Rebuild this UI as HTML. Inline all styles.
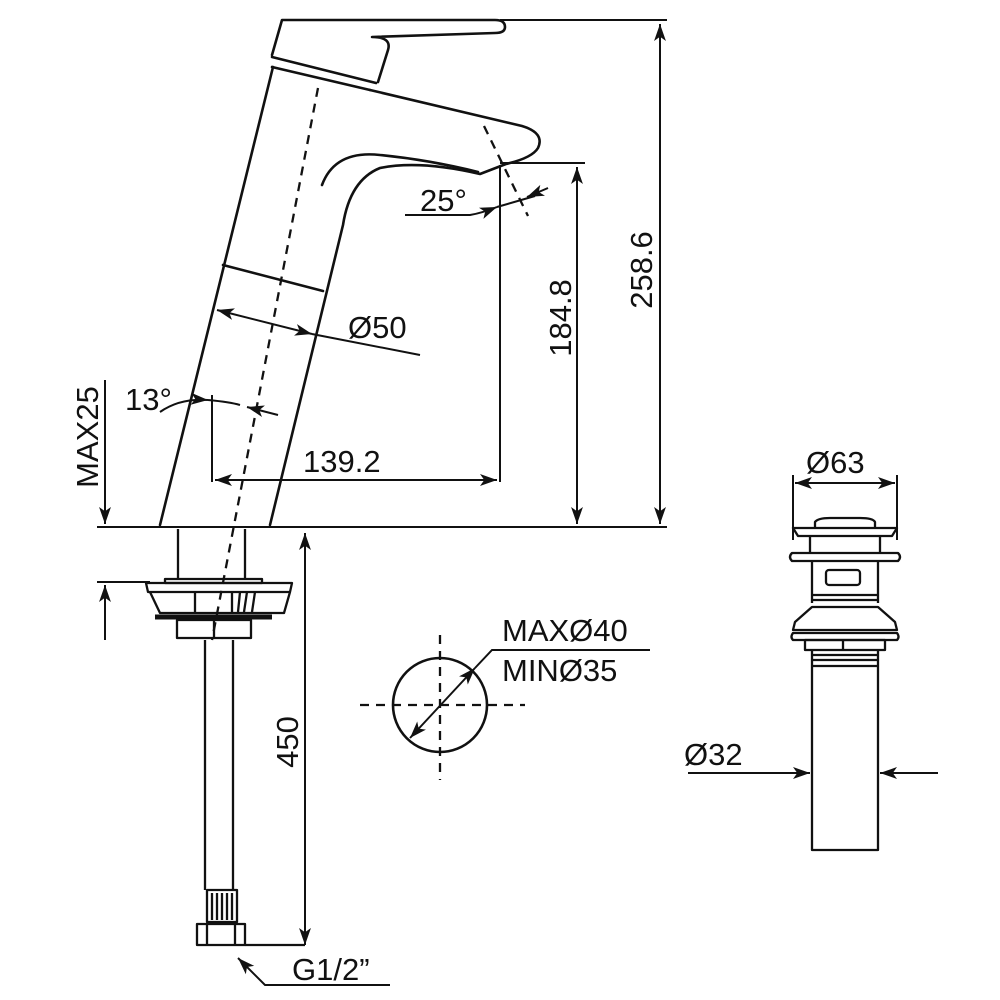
<!DOCTYPE html>
<html><head><meta charset="utf-8"><style>
html,body{margin:0;padding:0;background:#fff}
svg{display:block}
text{font-family:"Liberation Sans",Arial,sans-serif;font-size:31px;fill:#111}
</style></head><body>
<svg width="1000" height="1000" viewBox="0 0 1000 1000" xmlns="http://www.w3.org/2000/svg">
<defs>
<marker id="b" viewBox="0 0 10 10" refX="10" refY="5" markerWidth="17" markerHeight="17" orient="auto-start-reverse" markerUnits="userSpaceOnUse"><path d="M0,1.5 L10,5 L0,8.5 L2.5,5z" fill="#111"/></marker>
</defs>
<g fill="none" stroke="#111" stroke-width="2.6" stroke-linejoin="round" stroke-linecap="round">
<path d="M272,55 L282,20 L495,20 Q505,20 505,27 Q505,33 495,33 L372,37 Q392,37 388,50 L378,82"/>
<path d="M272,57 L376,83"/>
<path d="M272,67 L370,90"/>
<path d="M273,67 L160,525"/>
<path d="M370,90 L522,126 Q545,133 538,148 Q532,158 506,164 L480,174 Q420,160 380,168 Q350,180 343,225 L270,525"/>
<path d="M322,185 Q335,150 380,155 Q430,160 478,172"/>
<path d="M223,265 L323,291"/>
</g>
<g fill="none" stroke="#111" stroke-width="2.3" stroke-dasharray="9,7">
<path d="M318,88 L212,640"/>
<path d="M484,126 L528,216"/>
<path d="M360,705 L525,705"/>
<path d="M440,635 L440,780"/>
</g>
<g fill="none" stroke="#111" stroke-width="2">
<path d="M97,527 L667,527"/>
<path d="M500,20 L667,20"/>
<path d="M500,165 L500,482"/>
<path d="M500,163 L585,163"/>
<path d="M97,582 L150,582"/>
<path d="M212,395 L212,482"/>
<path d="M660,24 L660,524" marker-start="url(#b)" marker-end="url(#b)"/>
<path d="M577,167 L577,524" marker-start="url(#b)" marker-end="url(#b)"/>
<path d="M215,480 L497,480" marker-start="url(#b)" marker-end="url(#b)"/>
<path d="M217,310 L312,334" marker-start="url(#b)" marker-end="url(#b)"/>
<path d="M312,334 L420,355"/>
<path d="M105,380 L105,524" marker-end="url(#b)"/>
<path d="M105,640 L105,585" marker-end="url(#b)"/>
<path d="M305,945 L305,533" marker-start="url(#b)" marker-end="url(#b)"/>
<path d="M405,215 L470,215 Q482,213 497,207" marker-end="url(#b)"/>
<path d="M497,207 L535,196"/>
<path d="M548,188 L527,197" marker-end="url(#b)"/>
<path d="M160,412 Q180,398 208,400" marker-end="url(#b)"/>
<path d="M208,400 Q230,402 240,405"/>
<path d="M278,415 L247,407" marker-end="url(#b)"/>
<path d="M390,985 L265,985 L238,958" marker-end="url(#b)"/>
<path d="M410,738 L475,668" marker-start="url(#b)" marker-end="url(#b)"/>
<path d="M475,668 L492,650 L650,650"/>
<path d="M793,475 L793,540 M897,475 L897,540"/>
<path d="M795,483 L895,483" marker-start="url(#b)" marker-end="url(#b)"/>
<path d="M688,773 L810,773" marker-end="url(#b)"/>
<path d="M938,773 L880,773" marker-end="url(#b)"/>
</g>
<circle cx="440" cy="705" r="47" fill="none" stroke="#111" stroke-width="2.6"/>
<g fill="none" stroke="#111" stroke-width="2.3" stroke-linejoin="round">
<path d="M178,529 L178,579 M245,529 L245,579"/>
<path d="M165,579 L262,579 L262,583 L165,583z"/>
<path d="M146,583 L292,583 L290,592 L148,592z"/>
<path d="M150,592 L160,613 L284,613 L290,592"/>
<path d="M195,592 L195,612 M232,592 L232,612 M240,592 L238,612 M247,592 L244,612 M255,592 L252,612"/>
<path d="M155,617 L272,617" stroke-width="5"/>
<path d="M177,620 L251,620 L251,638 L177,638z"/>
<path d="M214,620 L214,638"/>
<path d="M205,640 L205,890 M233,640 L233,890"/>
<path d="M207,890 L237,890 L237,922 L207,922z"/>
<path d="M212,893 L212,920 M217,893 L217,920 M222,893 L222,920 M227,893 L227,920 M232,893 L232,920"/>
<path d="M197,924 L245,924 L245,945 L197,945z"/>
<path d="M207,924 L207,945 M235,924 L235,945"/>
<path d="M245,945 L305,945"/>
</g>
<g fill="none" stroke="#111" stroke-width="2.3" stroke-linejoin="round">
<path d="M815,527 L815,522 Q818,518 830,518 L860,518 Q873,518 875,522 L875,527"/>
<path d="M793,528 L897,528 L892,536 L798,536z"/>
<path d="M810,536 L810,553 M880,536 L880,553"/>
<path d="M792,553 L898,553 Q902,557 898,561 L792,561 Q788,557 792,553z"/>
<path d="M812,561 L812,603 M878,561 L878,603"/>
<rect x="826" y="570" width="34" height="15" rx="3"/>
<path d="M812,595 L878,595 M812,600 L878,600"/>
<path d="M812,607 L878,607 L895,622 L897,630 L793,630 L795,622z"/>
<path d="M793,633 L897,633 Q900,637 897,640 L793,640 Q790,637 793,633z"/>
<path d="M805,640 L885,640 L885,650 L805,650z"/>
<path d="M843,640 L843,650"/>
<path d="M812,650 L812,850 L878,850 L878,650"/>
<path d="M812,655 L878,655 M812,660 L878,660 M812,666 L878,666"/>
</g>
<text x="348" y="338">Ø50</text>
<text x="420" y="211">25°</text>
<text x="125" y="410">13°</text>
<text x="303" y="472">139.2</text>
<text x="502" y="641">MAXØ40</text>
<text x="502" y="681">MINØ35</text>
<text x="806" y="473">Ø63</text>
<text x="684" y="765">Ø32</text>
<text x="292" y="980">G1/2”</text>
<text transform="translate(571,318) rotate(-90)" text-anchor="middle">184.8</text>
<text transform="translate(652,270) rotate(-90)" text-anchor="middle">258.6</text>
<text transform="translate(98,437) rotate(-90)" text-anchor="middle">MAX25</text>
<text transform="translate(298,742) rotate(-90)" text-anchor="middle">450</text>
</svg>
</body></html>
